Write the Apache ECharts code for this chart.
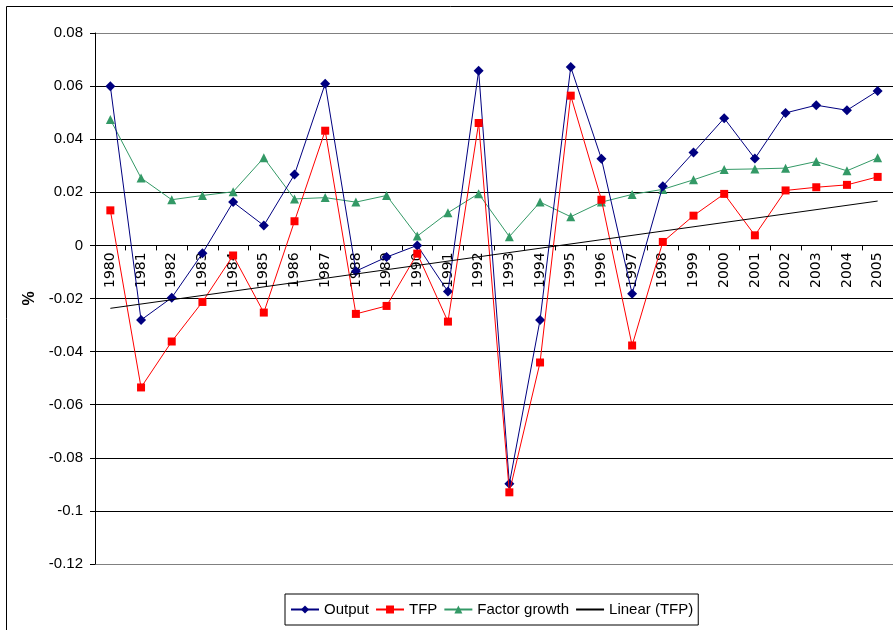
<!DOCTYPE html>
<html>
<head>
<meta charset="utf-8">
<script src="https://cdn.jsdelivr.net/npm/echarts@6/dist/echarts.min.js"></script>
<style>html,body{margin:0;padding:0;background:#fff}#c{width:893px;height:630px}</style>
</head>
<body>
<div id="c"></div>
<script>
const years = ['1980','1981','1982','1983','1984','1985','1986','1987','1988','1989','1990','1991','1992','1993','1994','1995','1996','1997','1998','1999','2000','2001','2002','2003','2004','2005'];
const output = [0.0599,-0.0281,-0.0197,-0.0030,0.0163,0.0075,0.0267,0.0609,-0.0097,-0.0044,0.0000,-0.0174,0.0658,-0.0898,-0.0281,0.0672,0.0326,-0.0182,0.0223,0.0350,0.0479,0.0327,0.0499,0.0528,0.0509,0.0582];
const tfp = [0.0132,-0.0535,-0.0362,-0.0213,-0.0038,-0.0253,0.0091,0.0432,-0.0258,-0.0228,-0.0031,-0.0287,0.0461,-0.0930,-0.0441,0.0564,0.0172,-0.0377,0.0013,0.0112,0.0194,0.0038,0.0207,0.0219,0.0228,0.0258];
const factorGrowth = [0.0474,0.0254,0.0172,0.0188,0.0202,0.0330,0.0175,0.0180,0.0163,0.0188,0.0035,0.0123,0.0195,0.0033,0.0163,0.0108,0.0163,0.0192,0.0211,0.0247,0.0286,0.0288,0.0291,0.0316,0.0281,0.0330];
const trendStart = -0.0237;
const trendEnd = 0.0167;
const yTicks = [-0.12,-0.1,-0.08,-0.06,-0.04,-0.02,0,0.02,0.04,0.06,0.08];

const trend = years.map((y, i) => i === 0 ? trendStart : (i === years.length - 1 ? trendEnd : null));
const FONT = "'Liberation Sans', Arial, sans-serif";

const GRID_TOP = 33, GRID_BOTTOM = 66, H = 630;
const plotH = H - GRID_TOP - GRID_BOTTOM;
const yMin = yTicks[0], yMax = yTicks[yTicks.length - 1];
// shift the category axis up so it sits on the zero line
const zeroOffset = -plotH * (0 - yMin) / (yMax - yMin);

const chart = echarts.init(document.getElementById('c'), null, {renderer: 'canvas'});
chart.setOption({
  animation: false,
  backgroundColor: '#fff',
  graphic: [{
    type: 'rect', left: 4, top: 4, silent: true,
    shape: {width: 900, height: 640},
    style: {fill: 'none', stroke: '#000', lineWidth: 1}
  }],
  grid: {left: 95, right: 0, top: GRID_TOP, bottom: GRID_BOTTOM, show: false},
  legend: {
    left: 285, top: 594,
    padding: [8, 5],
    itemGap: 6,
    itemWidth: 28, itemHeight: 10,
    borderColor: '#000', borderWidth: 1,
    textStyle: {fontFamily: FONT, fontSize: 15, color: '#000'},
    data: ['Output', 'TFP', 'Factor growth', {name: 'Linear (TFP)', itemStyle: {opacity: 0}}]
  },
  xAxis: {
    type: 'category',
    data: years,
    boundaryGap: true,
    offset: zeroOffset,
    axisLine: {onZero: false, lineStyle: {color: '#000', width: 1}},
    axisTick: {show: true, length: 5, inside: false, lineStyle: {color: '#000'}},
    axisLabel: {rotate: 90, margin: 7, fontFamily: "'DejaVu Sans', sans-serif", fontSize: 14, color: '#000'},
    splitLine: {show: false}
  },
  yAxis: {
    type: 'value',
    min: yMin, max: yMax, interval: 0.02,
    name: '%', nameLocation: 'middle', nameGap: 56, nameRotate: 90,
    nameTextStyle: {fontFamily: FONT, fontSize: 16, fontWeight: 'bold', color: '#000'},
    axisLine: {show: true, onZero: false, lineStyle: {color: '#000', width: 1}},
    axisTick: {show: true, length: 5, inside: false, lineStyle: {color: '#000'}},
    axisLabel: {margin: 12, fontFamily: FONT, fontSize: 15, color: '#000',
      formatter: v => String(parseFloat(Number(v).toFixed(2)))},
    splitLine: {show: true, lineStyle: {color: ['#808080','#000','#000','#000','#000','#000','#000','#000','#000','#000','#808080'], width: 1}}
  },
  series: [
    {name: 'Output', type: 'line', data: output, symbol: 'diamond', symbolSize: 10,
      color: '#000080', lineStyle: {color: '#000080', width: 1}, itemStyle: {color: '#000080'}, z: 3},
    {name: 'TFP', type: 'line', data: tfp, symbol: 'rect', symbolSize: 8,
      color: '#ff0000', lineStyle: {color: '#ff0000', width: 1}, itemStyle: {color: '#ff0000'}, z: 4},
    {name: 'Factor growth', type: 'line', data: factorGrowth, symbol: 'triangle', symbolSize: 9,
      color: '#339966', lineStyle: {color: '#339966', width: 1}, itemStyle: {color: '#339966'}, z: 2},
    {name: 'Linear (TFP)', type: 'line', data: trend, connectNulls: true, symbol: 'none',
      color: '#000', lineStyle: {color: '#000', width: 1}, z: 5}
  ]
});
</script>
</body>
</html>
